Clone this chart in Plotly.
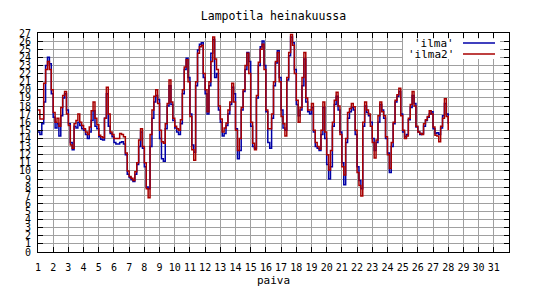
import numpy as np
import plotly.graph_objects as go

# Temperature readings every 3 hours, day 1.0 ... 28.0
ilma = [
    14.8, 14.5, 15.8, 18.5, 23.0, 24.0, 23.2, 19.5,
    16.6, 15.3, 15.8, 14.3, 16.8, 19.0, 19.5, 17.5,
    15.8, 13.5, 12.6, 15.5, 15.3, 16.0, 15.6, 15.2,
    15.0, 14.5, 14.0, 14.8, 16.2, 17.4, 15.5, 15.2,
    14.2, 13.9, 13.8, 16.5, 19.5, 15.5, 14.6, 14.2,
    13.5, 13.3, 13.3, 13.5, 13.6, 13.3, 12.0, 9.6,
    9.2, 8.9, 8.7, 9.6, 10.8, 13.0, 14.8, 12.8,
    10.5, 8.0, 7.8, 13.0, 16.5, 18.5, 19.3, 18.8,
    14.0, 11.5, 11.2, 15.2, 18.0, 20.5, 18.2, 16.2,
    15.3, 14.8, 14.5, 15.8, 19.5, 22.5, 23.9, 21.5,
    17.0, 13.2, 12.3, 20.5, 24.9, 25.6, 25.8, 21.5,
    19.5, 17.0, 20.5, 24.5, 26.2, 21.5, 22.0, 17.5,
    16.0, 14.3, 14.6, 15.6, 17.0, 18.2, 20.3, 19.5,
    15.2, 11.5, 12.5, 17.5, 19.8, 22.5, 24.6, 23.5,
    15.5, 13.0, 12.8, 19.0, 23.0, 25.3, 26.0, 23.0,
    17.3, 13.5, 12.8, 16.5, 20.5, 23.3, 24.8, 21.5,
    17.5, 15.3, 15.0, 21.2, 24.2, 26.5, 25.8, 22.5,
    18.2, 16.8, 17.5, 20.5, 23.8, 18.5, 17.3, 17.0,
    17.8, 14.8, 13.0, 12.8, 12.5, 14.5, 17.8, 14.0,
    10.8, 9.0, 10.5, 15.5, 18.2, 19.2, 17.5, 14.8,
    11.0, 8.3, 13.5, 16.5, 17.3, 17.8, 17.5, 14.5,
    10.5, 8.8, 7.8, 15.5, 18.0, 17.2, 16.8, 16.0,
    14.0, 12.5, 13.5, 16.0, 18.2, 17.5, 16.5, 14.0,
    12.2, 9.8, 13.0, 15.8, 18.5, 19.2, 19.8, 17.0,
    14.8, 14.2, 14.5, 16.3, 17.8, 19.3, 18.3, 15.4,
    14.8, 14.5, 14.6, 15.5, 16.2, 16.6, 17.0, 17.3,
    15.2, 14.6, 14.7, 14.5, 15.3, 16.8, 18.3, 17.0,
    15.8,
]

ilma2 = [
    17.5, 16.4, 16.4, 20.8, 22.5, 23.5, 22.5, 20.0,
    17.2, 16.0, 16.5, 15.5, 17.8, 19.3, 19.8, 17.0,
    15.6, 13.2, 12.8, 15.8, 16.2, 17.0, 16.0, 15.6,
    15.2, 14.8, 14.5, 15.4, 17.4, 18.5, 16.5, 15.7,
    14.4, 14.2, 14.1, 16.5, 20.3, 17.0, 14.8, 14.5,
    14.0, 14.0, 14.0, 14.6, 14.5, 14.2, 12.2, 10.0,
    9.3, 9.1, 8.8, 9.9, 11.0, 13.8, 15.2, 13.0,
    11.0, 7.8, 6.7, 14.5, 17.5, 19.2, 20.0, 18.3,
    15.0, 13.6, 13.4, 15.8, 18.3, 21.2, 18.5, 16.5,
    15.5, 15.2, 15.0, 16.3, 20.0, 22.8, 23.7, 21.0,
    16.7, 12.6, 11.3, 21.0, 24.5, 25.3, 25.5, 22.0,
    20.0, 17.3, 21.0, 23.5, 26.5, 23.8, 22.5, 18.0,
    16.4, 14.8, 15.3, 15.9, 17.5, 18.5, 20.8, 18.5,
    15.0, 12.5, 14.0, 17.8, 20.0, 23.0, 24.5, 22.0,
    16.0, 13.4, 12.6, 19.3, 23.4, 25.0, 25.6, 22.5,
    17.5, 15.2, 15.2, 17.0, 21.0, 23.5, 24.6, 21.0,
    16.7, 15.8, 14.3, 21.5, 24.6, 26.8, 25.5, 22.0,
    18.7, 16.0, 17.8, 21.5, 24.6, 19.0, 17.5, 17.5,
    18.3, 15.0, 13.5, 13.0, 12.7, 15.0, 18.5, 14.8,
    12.0, 10.1, 12.5, 16.0, 18.7, 19.7, 18.0, 14.5,
    10.5, 9.5, 14.0, 17.2, 17.7, 18.3, 17.9, 15.0,
    9.8, 8.2, 6.9, 16.0, 18.5, 17.5, 17.0, 15.5,
    13.5, 11.6, 13.8, 16.8, 18.5, 17.3, 16.8, 14.2,
    12.0, 10.3, 13.5, 16.0, 18.7, 19.4, 20.2, 16.8,
    15.0, 14.0, 14.3, 16.5, 18.2, 19.8, 18.0, 15.5,
    14.8, 14.6, 14.5, 15.8, 16.3, 16.7, 17.4, 17.0,
    15.4, 14.4, 14.3, 13.6, 15.5, 16.5, 18.9, 16.7,
    15.0,
]

paiva = 1 + np.arange(len(ilma)) / 8.0
x_ticks = list(range(1, 32))
y_ticks = list(range(0, 28))
series_names = ["'ilma'", "'ilma2'"]
series_colors = ["#0000a8", "#a80000"]

FONT = "DejaVu Sans Mono"
L, R, T, B = 38, 27, 33, 36
W, H = 536, 288
pw, ph = W - L - R, H - T - B

fig = go.Figure()
for name, vals, col in zip(series_names, [ilma, ilma2], series_colors):
    fig.add_trace(go.Scatter(x=paiva, y=vals, mode="lines", name=name,
                             line=dict(color=col, width=1.5, shape="hv"),
                             showlegend=False))

axis_common = dict(showline=True, linecolor="black", linewidth=1, mirror="ticks",
                   ticks="inside", ticklen=5, tickcolor="black", tickwidth=1,
                   showgrid=True, gridcolor="#a0a0a0", gridwidth=1,
                   zeroline=False, tickangle=0,
                   tickfont=dict(family=FONT, size=10, color="black"))

fig.update_xaxes(range=[1, 32], tickvals=x_ticks, ticktext=[str(v) for v in x_ticks],
                 ticklabelstandoff=6, **axis_common)
fig.update_yaxes(range=[0, 27], tickvals=y_ticks, ticktext=[str(v) for v in y_ticks],
                 ticklabelstandoff=4, **axis_common)

# legend box (gnuplot style: text then line sample)
def px(x):
    return (x - L) / pw

def py(y):
    return (H - B - y) / ph

fig.add_shape(type="rect", xref="paper", yref="paper", x0=px(403), x1=px(500),
              y0=py(59), y1=py(38.5), fillcolor="white", line=dict(width=0), layer="above")
for i, (name, col) in enumerate(zip(series_names, series_colors)):
    yy = 43 + 11 * i
    fig.add_annotation(xref="paper", yref="paper", x=px(456), y=py(yy), text=name,
                       showarrow=False, xanchor="right", yanchor="middle",
                       font=dict(family=FONT, size=11, color="black"))
    fig.add_shape(type="line", xref="paper", yref="paper", x0=px(463), x1=px(495),
                  y0=py(yy), y1=py(yy), line=dict(color=col, width=1.5), layer="above")

fig.add_annotation(xref="paper", yref="paper", x=0.5, y=py(280), text="paiva",
                   showarrow=False, xanchor="center", yanchor="middle",
                   font=dict(family=FONT, size=11, color="black"))

fig.update_layout(
    width=W, height=H,
    margin=dict(l=L, r=R, t=T, b=B),
    paper_bgcolor="white", plot_bgcolor="white",
    title=dict(text="Lampotila heinakuussa", x=(L + pw / 2) / W, xanchor="center",
               y=1 - 16 / H, yanchor="middle", yref="container",
               font=dict(family=FONT, size=11.5, color="black")),
    showlegend=False,
)

fig.write_html("out.html")
